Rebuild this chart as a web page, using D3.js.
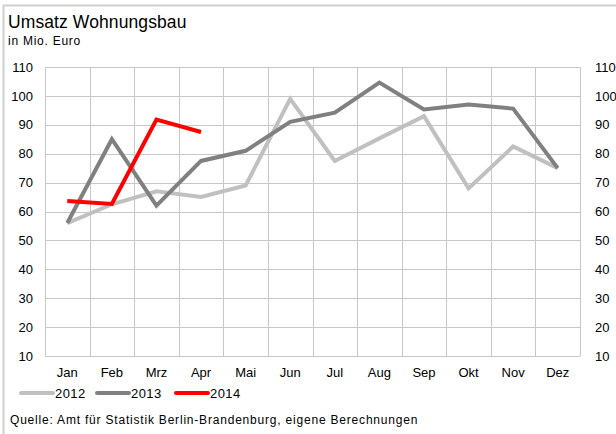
<!DOCTYPE html>
<html>
<head>
<meta charset="utf-8">
<script src="https://cdn.jsdelivr.net/npm/d3@7"></script>
<style>
  html, body { margin: 0; padding: 0; background: #fff; }
  svg { display: block; font-family: "Liberation Sans", Arial, sans-serif; }
</style>
</head>
<body>
<svg id="chart" width="616" height="434"></svg>
<script>
// Monthly residential construction turnover, million euro
const months = ["Jan","Feb","Mrz","Apr","Mai","Jun","Jul","Aug","Sep","Okt","Nov","Dez"];
const years = ["2012","2013","2014"];
const values2012 = [56, 62.5, 67, 65, 69, 99, 77.5, 85.3, 93, 68, 82.5, 75];
const values2013 = [56, 85, 62, 77.5, 81, 91, 94.2, 104.6, 95.3, 97, 95.6, 75];
const values2014 = [63.6, 62.6, 91.8, 87.5];
const yTicks = [10, 20, 30, 40, 50, 60, 70, 80, 90, 100, 110];
const colors = ["#c0c0c0", "#808080", "#ff0000"];

const svg = d3.select("#chart");
const plot = { left: 45, right: 580, top: 67, bottom: 356 };

const x = d3.scaleBand().domain(months).range([plot.left, plot.right]);
const y = d3.scaleLinear().domain([10, 110]).range([plot.bottom, plot.top]);

// outer frame (top and left edges)
svg.append("line").attr("x1", 3).attr("x2", 616).attr("y1", 5.5).attr("y2", 5.5)
  .attr("stroke", "#cfcfcf").attr("stroke-width", 2);
svg.append("line").attr("x1", 3.5).attr("x2", 3.5).attr("y1", 5).attr("y2", 434)
  .attr("stroke", "#cfcfcf").attr("stroke-width", 2);

// titles
svg.append("text").attr("x", 8).attr("y", 28).attr("font-size", 17.5).attr("fill", "#000")
  .attr("letter-spacing", 0.1)
  .text("Umsatz Wohnungsbau");
svg.append("text").attr("x", 8).attr("y", 45).attr("font-size", 12).attr("fill", "#000")
  .attr("letter-spacing", 0.75)
  .text("in Mio. Euro");

// grid
const grid = svg.append("g").attr("stroke", "#c8c8c8").attr("stroke-width", 1).attr("shape-rendering", "crispEdges");
yTicks.forEach(t => {
  grid.append("line").attr("x1", plot.left).attr("x2", plot.right)
    .attr("y1", Math.round(y(t)) + 0.5).attr("y2", Math.round(y(t)) + 0.5);
});
months.forEach(m => {
  const xx = Math.round(x(m)) + 0.5;
  grid.append("line").attr("x1", xx).attr("x2", xx).attr("y1", plot.top).attr("y2", plot.bottom);
});
grid.append("line").attr("x1", plot.right + 0.5).attr("x2", plot.right + 0.5).attr("y1", plot.top).attr("y2", plot.bottom);

// axes (labels only)
const leftAxis = svg.append("g").attr("transform", `translate(${plot.left},0)`)
  .call(d3.axisLeft(y).tickValues(yTicks).tickSize(0).tickPadding(12));
const rightAxis = svg.append("g").attr("transform", `translate(${plot.right},0)`)
  .call(d3.axisRight(y).tickValues(yTicks).tickSize(0).tickPadding(15));
const bottomAxis = svg.append("g").attr("transform", `translate(0,${plot.bottom})`)
  .call(d3.axisBottom(x).tickSize(0).tickPadding(12));
[leftAxis, rightAxis, bottomAxis].forEach(a => {
  a.select(".domain").remove();
  a.selectAll("text").attr("font-size", 13).attr("fill", "#000")
    .attr("font-family", "'Liberation Sans', Arial, sans-serif");
});

// series lines
const line = d3.line().x((d, i) => x(months[i]) + x.bandwidth() / 2).y(d => y(d));
[values2012, values2013, values2014].forEach((vals, k) => {
  svg.append("path").datum(vals).attr("d", line)
    .attr("fill", "none").attr("stroke", colors[k]).attr("stroke-width", 4)
    .attr("stroke-linejoin", "miter").attr("stroke-linecap", "butt");
});

// legend
const legendX = [21, 97, 176];
years.forEach((yr, k) => {
  const g = svg.append("g").attr("transform", `translate(${legendX[k]},393)`);
  g.append("line").attr("x1", 0).attr("x2", 32).attr("y1", 0).attr("y2", 0)
    .attr("stroke", colors[k]).attr("stroke-width", 4).attr("stroke-linecap", "round");
  g.append("text").attr("x", 34).attr("y", 5).attr("font-size", 13).attr("fill", "#000")
    .attr("letter-spacing", 0.4).text(yr);
});

// source note
svg.append("text").attr("x", 10).attr("y", 424).attr("font-size", 12).attr("fill", "#000")
  .attr("letter-spacing", 0.8)
  .text("Quelle: Amt für Statistik Berlin-Brandenburg, eigene Berechnungen");
</script>
</body>
</html>
